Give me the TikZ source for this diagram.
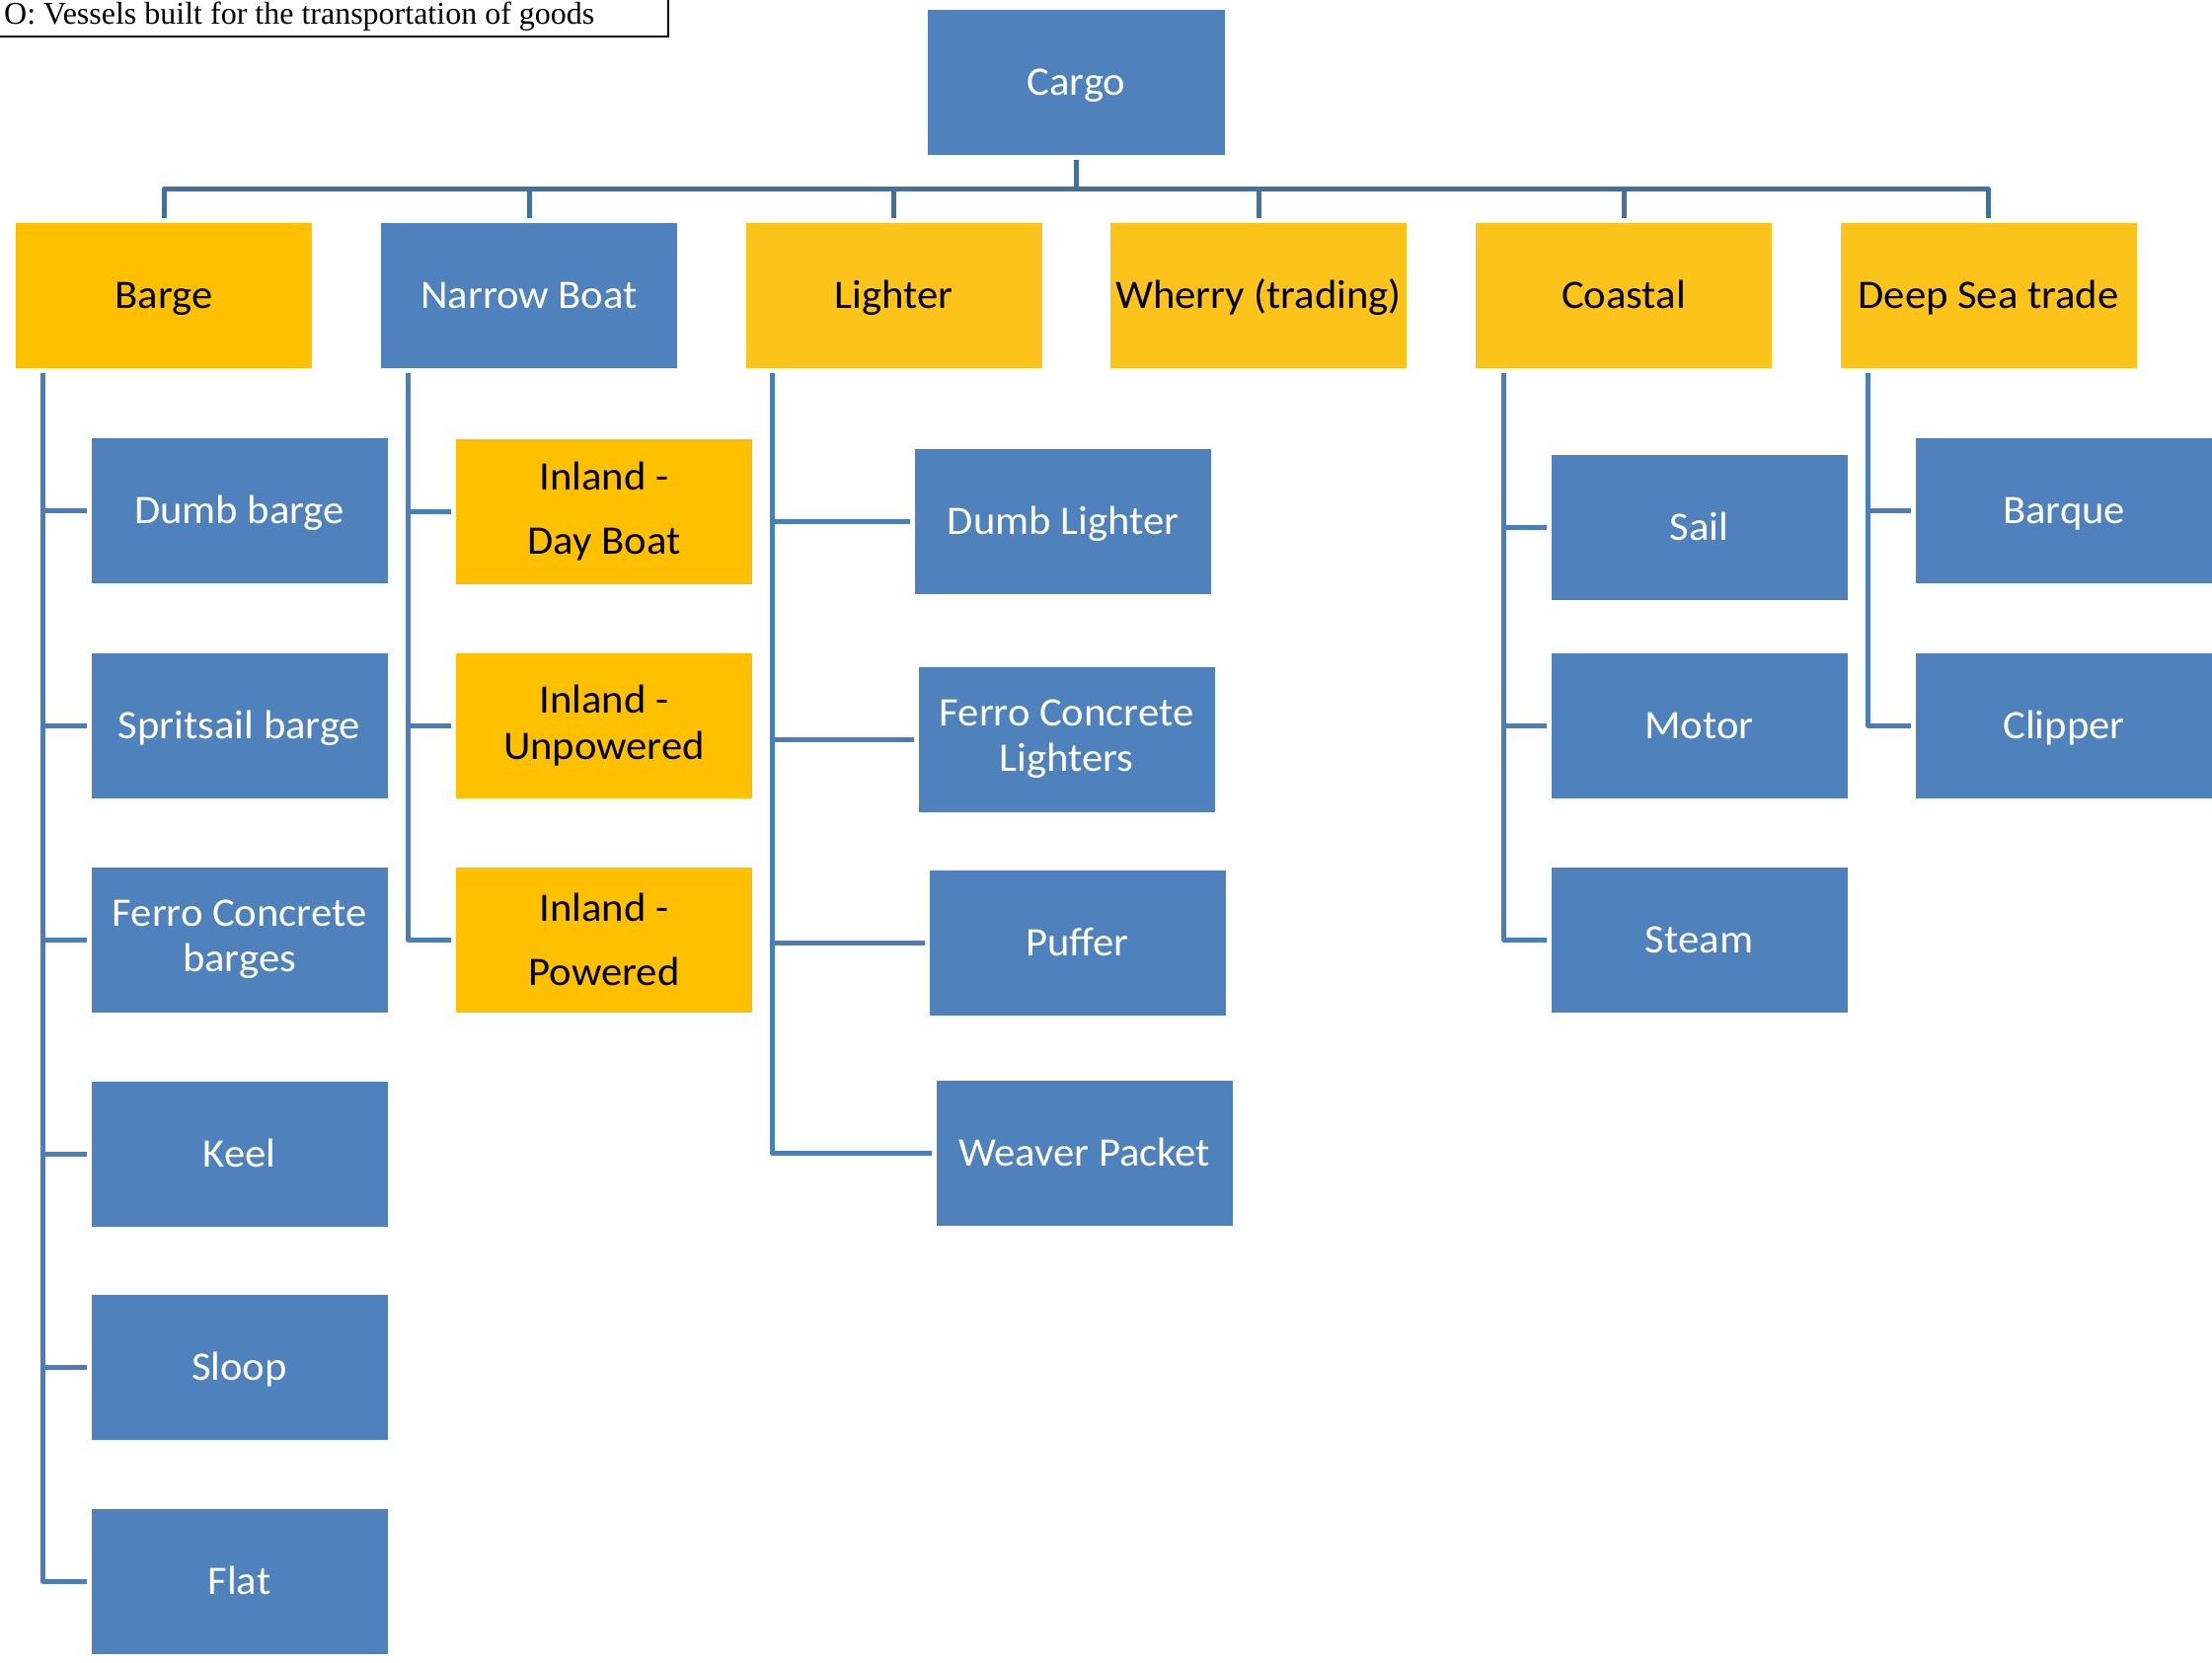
\documentclass[tikz,border=0pt]{standalone}
\usepackage{fontspec}
\setmainfont{Carlito}[FakeStretch=1.04]
\newfontfamily\captionserif{Liberation Serif}
\definecolor{boxblue}{HTML}{4F81BD}
\definecolor{gold}{HTML}{FFC000}
\definecolor{amber}{HTML}{FCC41A}
\definecolor{busline}{HTML}{41719C}
\definecolor{branchline}{HTML}{4A7EBB}

\begin{document}
\begin{tikzpicture}[x=1pt,y=-1pt,
  card/.style={rectangle, draw=none, minimum width=300pt, minimum height=147pt,
    inner sep=0pt, outer sep=5pt, align=center,
    font=\fontsize{41}{46}\selectfont, text height=26pt, text depth=0pt},
  twoline/.style={text height={}, text depth={}},
  bluecard/.style={card, fill=boxblue, text=white},
  goldcard/.style={card, fill=gold, text=black},
  ambercard/.style={card, fill=amber, text=black},
  bus/.style={draw=busline, line width=5pt, line join=round},
  branch/.style={draw=branchline, line width=5pt, line join=round},
]
\useasboundingbox (0,0) rectangle (2241,1685);
\fill[white] (0,0) rectangle (2241,1685);

% heading caption in the top-left corner
\node[font=\captionserif\fontsize{32}{38}\selectfont, anchor=base west, inner sep=0pt]
  (caption) at (4,25) {O: Vessels built for the transportation of goods};
\draw[line width=2pt] (-10,-10) rectangle (677,37);

% root
\node[bluecard, minimum width=301pt] (cargo) at (1090.5,83.5) {Cargo};

% first level
\node[goldcard]  (barge)   at (166,300)    {Barge};
\node[bluecard]  (narrow)  at (536,300)    {Narrow Boat};
\node[ambercard] (lighter) at (905.5,300)  {Lighter};
\node[ambercard] (wherry)  at (1275,300)   {Wherry (trading)};
\node[ambercard] (coastal) at (1645,300)   {Coastal};
\node[ambercard] (deep)    at (2014.5,300) {Deep Sea trade};

% barge types
\node[bluecard] (dumbb)  at (242.5,517.5)  {Dumb barge};
\node[bluecard] (sprit)  at (242.5,735.5)  {Spritsail barge};
\node[bluecard, twoline] (ferrob) at (242.5,952) {Ferro Concrete\\barges};
\node[bluecard] (keel)   at (242.5,1169)   {Keel};
\node[bluecard] (sloop)  at (242.5,1385.5) {Sloop};
\node[bluecard] (flat)   at (242.5,1602)   {Flat};

% narrow boat types
\node[goldcard, twoline] (dayboat)    at (612,518) {Inland -\\[19pt]Day Boat};
\node[goldcard, twoline] (unpowered)  at (612,735) {Inland -\\[1pt]Unpowered};
\node[goldcard, twoline] (powered)    at (612,952) {Inland -\\[19pt]Powered};

% lighter types
\node[bluecard] (dumbl)  at (1077,528)      {Dumb Lighter};
\node[bluecard, twoline] (ferrol) at (1080.5,749) {Ferro Concrete\\Lighters};
\node[bluecard] (puffer) at (1091.5,955.5)  {Puffer};
\node[bluecard] (weaver) at (1098.5,1168.5) {Weaver Packet};

% coastal types
\node[bluecard] (sail)  at (1721.5,534.5) {Sail};
\node[bluecard] (motor) at (1721.5,735.5) {Motor};
\node[bluecard] (steam) at (1721.5,952)   {Steam};

% deep sea types
\node[bluecard] (barque)  at (2091,517.5) {Barque};
\node[bluecard] (clipper) at (2091,735)   {Clipper};

% top bus
\coordinate (hub) at (1090.5,191.5);
\draw[bus] (cargo.south) -- (hub);
\draw[bus] (barge.north) |- (hub) -| (deep.north);
\foreach \n in {narrow,lighter,wherry,coastal}
  \draw[bus] (\n.north) -- (\n.north |- hub);

% stems under each group
\coordinate (stemA) at ([xshift=32pt]barge.south west);
\coordinate (stemN) at ([xshift=32pt]narrow.south west);
\coordinate (stemL) at ([xshift=32pt]lighter.south west);
\coordinate (stemC) at ([xshift=33pt]coastal.south west);
\coordinate (stemD) at ([xshift=33pt]deep.south west);

\draw[branch] (stemA) |- (flat.west);
\foreach \c in {dumbb,sprit,ferrob,keel,sloop}
  \draw[branch] (stemA |- \c.west) -- (\c.west);

\draw[branch] (stemN) |- (powered.west);
\foreach \c in {dayboat,unpowered}
  \draw[branch] (stemN |- \c.west) -- (\c.west);

\draw[branch] (stemL) |- (weaver.west);
\foreach \c in {dumbl,ferrol,puffer}
  \draw[branch] (stemL |- \c.west) -- (\c.west);

\draw[branch] (stemC) |- (steam.west);
\foreach \c in {sail,motor}
  \draw[branch] (stemC |- \c.west) -- (\c.west);

\draw[branch] (stemD) |- (clipper.west);
\draw[branch] (stemD |- barque.west) -- (barque.west);
\end{tikzpicture}
\end{document}
